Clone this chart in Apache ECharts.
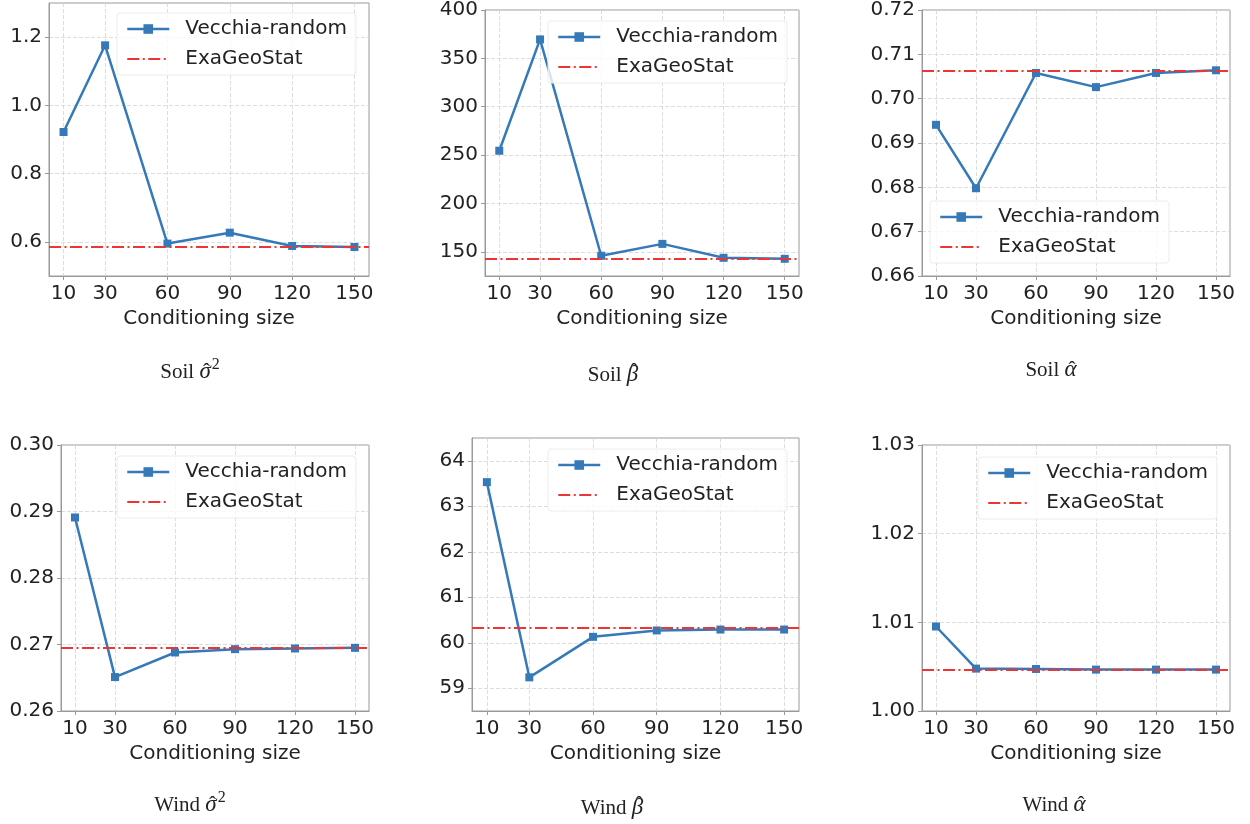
<!DOCTYPE html>
<html>
<head>
<meta charset="utf-8">
<script src="https://cdn.jsdelivr.net/npm/echarts@6/dist/echarts.min.js"></script>
<style>
  html, body { margin: 0; padding: 0; background: #ffffff; }
  #chart { width: 1250px; height: 824px; }
</style>
</head>
<body>
<div id="chart"></div>
<script>
// ---- data ----
const conditioningSizes = [10, 30, 60, 90, 120, 150];

const soilSigma2 = [0.922, 1.176, 0.595, 0.627, 0.588, 0.585];
const soilSigma2Exa = 0.586;
const soilBeta = [254.5, 369.6, 145.9, 158.2, 143.8, 142.8];
const soilBetaExa = 142.6;
const soilAlpha = [0.6941, 0.6798, 0.7058, 0.7026, 0.7058, 0.7064];
const soilAlphaExa = 0.7062;

const windSigma2 = [0.2891, 0.2651, 0.2688, 0.2693, 0.2694, 0.2695];
const windSigma2Exa = 0.2695;
const windBeta = [63.53, 59.24, 60.13, 60.27, 60.29, 60.29];
const windBetaExa = 60.34;
const windAlpha = [1.00953, 1.00478, 1.00474, 1.00467, 1.00467, 1.00467];
const windAlphaExa = 1.00467;

// tick labels
const yTicksSoilSigma2 = [0.6, 0.8, 1.0, 1.2];
const yTicksSoilBeta = [150, 200, 250, 300, 350, 400];
const yTicksSoilAlpha = [0.66, 0.67, 0.68, 0.69, 0.70, 0.71, 0.72];
const yTicksWindSigma2 = [0.26, 0.27, 0.28, 0.29, 0.30];
const yTicksWindBeta = [59, 60, 61, 62, 63, 64];
const yTicksWindAlpha = [1.00, 1.01, 1.02, 1.03];

const seriesNames = ['Vecchia-random', 'ExaGeoStat'];
const xAxisName = 'Conditioning size';

// ---- styling / layout ----
const BLUE = '#3579b9';
const RED = '#ee3535';
const TXT = '#222222';
const FONT = 'DejaVu Sans';
const DASHDOT = [12, 3.5, 2, 3.5];
const SERIF = 'Liberation Serif';

const panels = [
  { vals: soilSigma2, exa: soilSigma2Exa, ticks: yTicksSoilSigma2, dec: 1, min: 0.5, max: 1.3,
    grid: { left: 49, top: 3, width: 320, height: 273 }, legend: { left: 117, top: 13 },
    caption: { x: 190, y: 372, head: 'Soil', sym: 'σ', sup: '2', hatDy: 0 } },
  { vals: soilBeta, exa: soilBetaExa, ticks: yTicksSoilBeta, dec: 0, min: 125, max: 400,
    grid: { left: 485, top: 10, width: 314, height: 266 }, legend: { left: 548, top: 21 },
    caption: { x: 613, y: 375, head: 'Soil', sym: 'β', sup: '', hatDy: -3 } },
  { vals: soilAlpha, exa: soilAlphaExa, ticks: yTicksSoilAlpha, dec: 2, min: 0.66, max: 0.72,
    grid: { left: 922, top: 10, width: 308, height: 266 }, legend: { left: 930, top: 201 },
    caption: { x: 1051, y: 370, head: 'Soil', sym: 'α', sup: '', hatDy: 0 } },
  { vals: windSigma2, exa: windSigma2Exa, ticks: yTicksWindSigma2, dec: 2, min: 0.26, max: 0.30,
    grid: { left: 61, top: 445, width: 308, height: 266 }, legend: { left: 117, top: 456 },
    caption: { x: 190, y: 805, head: 'Wind', sym: 'σ', sup: '2', hatDy: 0 } },
  { vals: windBeta, exa: windBetaExa, ticks: yTicksWindBeta, dec: 0, min: 58.5, max: 64.5,
    grid: { left: 472, top: 438, width: 327, height: 273 }, legend: { left: 548, top: 449 },
    caption: { x: 612, y: 808, head: 'Wind', sym: 'β', sup: '', hatDy: -3 } },
  { vals: windAlpha, exa: windAlphaExa, ticks: yTicksWindAlpha, dec: 2, min: 1.00, max: 1.03,
    grid: { left: 922, top: 445, width: 308, height: 266 }, legend: { left: 978, top: 457 },
    caption: { x: 1054, y: 805, head: 'Wind', sym: 'α', sup: '', hatDy: 0 } }
];

// text measuring for caption layout
const measureCtx = document.createElement('canvas').getContext('2d');
function textWidth(str, font) { measureCtx.font = font; return measureCtx.measureText(str).width; }

const grids = [], xAxes = [], yAxes = [], series = [], legends = [], graphics = [];

panels.forEach((p, i) => {
  grids.push(Object.assign({ show: true, borderColor: '#9a9a9a', borderWidth: 1, containLabel: false }, p.grid));

  xAxes.push({
    type: 'value', gridIndex: i, min: 3, max: 157,
    axisLine: { show: true, lineStyle: { color: '#9a9a9a', width: 1 } },
    axisTick: { show: true, length: 4, lineStyle: { color: '#9a9a9a' }, customValues: conditioningSizes },
    axisLabel: { color: TXT, fontFamily: FONT, fontSize: 20, margin: 8, customValues: conditioningSizes,
                 formatter: v => String(v) },
    splitLine: { show: true, lineStyle: { color: '#d4d4d4', type: [4, 2], width: 0.8 } },
    name: xAxisName, nameLocation: 'middle', nameGap: 33,
    nameTextStyle: { color: TXT, fontFamily: FONT, fontSize: 20 }
  });

  yAxes.push({
    type: 'value', gridIndex: i, min: p.min, max: p.max,
    axisLine: { show: true, lineStyle: { color: '#9a9a9a', width: 1 } },
    axisTick: { show: true, length: 4, lineStyle: { color: '#9a9a9a' }, customValues: p.ticks },
    axisLabel: { color: TXT, fontFamily: FONT, fontSize: 20, margin: 7, customValues: p.ticks,
                 formatter: v => Number(v).toFixed(p.dec) },
    splitLine: { show: true, lineStyle: { color: '#d4d4d4', type: [4, 2], width: 0.8 } }
  });

  series.push({
    name: seriesNames[0], type: 'line', xAxisIndex: i, yAxisIndex: i,
    data: conditioningSizes.map((x, k) => [x, p.vals[k]]),
    symbol: 'rect', symbolSize: 8, showSymbol: true,
    lineStyle: { color: BLUE, width: 2.5 },
    itemStyle: { color: BLUE },
    z: 2
  });
  series.push({
    name: seriesNames[1], type: 'line', xAxisIndex: i, yAxisIndex: i,
    data: [], symbol: 'none',
    lineStyle: { color: RED, width: 2.2, type: DASHDOT },
    itemStyle: { color: RED },
    markLine: {
      silent: true, symbol: ['none', 'none'], label: { show: false }, precision: 10,
      lineStyle: { color: RED, width: 2.2, type: DASHDOT },
      emphasis: { disabled: true },
      data: [{ yAxis: p.exa }]
    },
    z: 3
  });

  legends.push({
    left: p.legend.left, top: p.legend.top, orient: 'vertical',
    itemWidth: 42, itemHeight: 12, itemGap: 10,
    backgroundColor: 'rgba(255,255,255,0.8)', borderColor: '#ececec', borderWidth: 1, borderRadius: 3,
    padding: [6, 9, 6, 9],
    textStyle: { color: TXT, fontFamily: FONT, fontSize: 20, lineHeight: 20, padding: [0, 0, 0, 11] },
    data: [
      { name: seriesNames[0], itemStyle: { color: BLUE }, lineStyle: { color: BLUE, width: 2.5 } },
      { name: seriesNames[1], itemStyle: { color: RED, opacity: 0 }, lineStyle: { color: RED, width: 2.2, type: DASHDOT } }
    ]
  });

  // caption: "Soil σ̂²" etc. (hat drawn above the italic symbol)
  const c = p.caption;
  const fHead = '21px "' + SERIF + '"';
  const fSym = 'italic 23px "' + SERIF + '"';
  const fSup = '16px "' + SERIF + '"';
  const wHead = textWidth(c.head + ' ', fHead);
  const wSym = textWidth(c.sym, fSym);
  const wSup = c.sup ? textWidth(c.sup, fSup) + 1 : 0;
  const x0 = c.x - (wHead + wSym + wSup) / 2;
  graphics.push({ type: 'text', x: x0, y: c.y,
    style: { text: c.head, font: fHead, fill: '#222', align: 'left', verticalAlign: 'middle' } });
  graphics.push({ type: 'text', x: x0 + wHead, y: c.y - 0.5,
    style: { text: c.sym, font: fSym, fill: '#222', align: 'left', verticalAlign: 'middle' } });
  graphics.push({ type: 'text', x: x0 + wHead + wSym / 2 + 1.5, y: c.y + c.hatDy,
    style: { text: '\u02C6', font: '21px "' + SERIF + '"', fill: '#222', align: 'center', verticalAlign: 'middle' } });
  if (c.sup) {
    graphics.push({ type: 'text', x: x0 + wHead + wSym + 1, y: c.y - 7,
      style: { text: c.sup, font: fSup, fill: '#222', align: 'left', verticalAlign: 'middle' } });
  }
});

const chart = echarts.init(document.getElementById('chart'), null, { renderer: 'canvas' });
chart.setOption({
  animation: false,
  backgroundColor: '#ffffff',
  grid: grids,
  xAxis: xAxes,
  yAxis: yAxes,
  legend: legends,
  series: series,
  graphic: graphics
});
</script>
</body>
</html>
